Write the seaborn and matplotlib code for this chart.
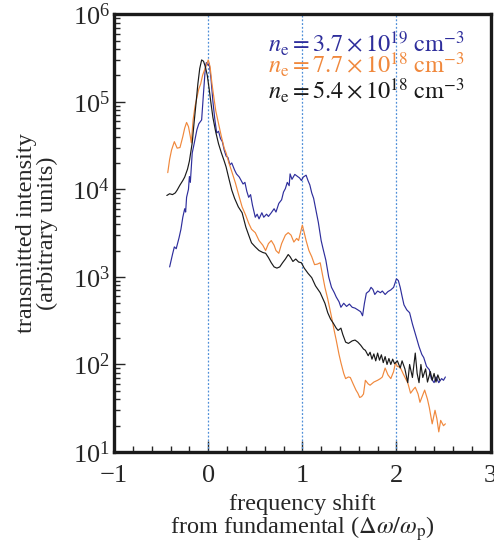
import numpy as np
import pandas as pd
import matplotlib
matplotlib.use("Agg")
import matplotlib.pyplot as plt
import matplotlib.ticker as mticker
import seaborn as sns

# ---- data ----
blue_x = [-0.41, -0.38, -0.36, -0.34, -0.31, -0.29, -0.27, -0.25, -0.24, -0.23, -0.21, -0.20, -0.19, -0.17,
          -0.15, -0.12, -0.10, -0.07, -0.05, -0.03, -0.02, 0.00, 0.01, 0.03, 0.05, 0.07, 0.09, 0.11, 0.13,
          0.15, 0.17, 0.19, 0.21, 0.23, 0.25, 0.28, 0.30, 0.33, 0.35, 0.37, 0.39, 0.41, 0.43, 0.45, 0.47,
          0.50, 0.52, 0.54, 0.57, 0.59, 0.62, 0.64, 0.67, 0.70, 0.72, 0.75, 0.78, 0.80, 0.82, 0.84, 0.86,
          0.87, 0.89, 0.92, 0.95, 0.97, 0.99, 1.01, 1.04, 1.06, 1.08, 1.10, 1.12, 1.15, 1.17, 1.20, 1.22,
          1.25, 1.28, 1.31, 1.34, 1.36, 1.39, 1.41, 1.44, 1.47, 1.50, 1.53, 1.56, 1.59, 1.62, 1.64, 1.66,
          1.68, 1.71, 1.73, 1.75, 1.77, 1.80, 1.83, 1.85, 1.88, 1.91, 1.94, 1.97, 2.00, 2.02, 2.04, 2.06,
          2.08, 2.11, 2.14, 2.17, 2.19, 2.22, 2.24, 2.27, 2.29, 2.32, 2.35, 2.37, 2.40, 2.42, 2.45, 2.48,
          2.50, 2.52]
blue_y = [1.3e3, 1.8e3, 2.2e3, 2.1e3, 2.8e3, 3.5e3, 4.8e3, 6.0e3, 5.5e3, 8.1e3, 1.0e4, 1.4e4, 1.2e4, 2.6e4,
          3.3e4, 4.8e4, 5.6e4, 6.2e4, 1.26e5, 2.5e5, 2.8e5, 2.6e5, 2.75e5, 1.8e5, 1.0e5, 6.3e4, 4.4e4, 4.6e4, 3.8e4,
          3.5e4, 2.8e4, 2.4e4, 2.3e4, 1.9e4, 2.0e4, 1.66e4, 1.5e4, 1.38e4, 1.26e4, 1.15e4, 1.2e4, 9.5e3, 8.1e3, 8.7e3, 6.6e3,
          4.8e3, 5.2e3, 4.6e3, 5.4e3, 4.8e3, 5.2e3, 4.9e3, 5.4e3, 6.0e3, 5.5e3, 6.9e3, 7.6e3, 9.3e3, 1.02e4, 1.2e4, 1.1e4,
          1.5e4, 1.3e4, 1.48e4, 1.4e4, 1.35e4, 1.26e4, 1.38e4, 1.45e4, 1.26e4, 1.12e4, 9.1e3, 7.9e3, 5.4e3, 4.2e3, 2.6e3, 2.1e3,
          1.55e3, 1.0e3, 7.6e2, 6.6e2, 5.9e2, 5.2e2, 4.5e2, 5.0e2, 4.6e2, 4.9e2, 4.5e2, 4.4e2, 4.2e2, 4.0e2, 3.6e2, 5.0e2,
          6.5e2, 6.9e2, 7.6e2, 7.2e2, 6.3e2, 6.9e2, 6.6e2, 6.9e2, 6.3e2, 6.8e2, 7.1e2, 7.6e2, 9.5e2, 9.1e2, 7.6e2, 6.0e2,
          4.8e2, 4.2e2, 3.9e2, 2.9e2, 2.45e2, 1.9e2, 1.6e2, 1.3e2, 1.2e2, 95, 87, 69, 62, 72, 62, 69,
          66, 72]

orange_x = [-0.43, -0.41, -0.39, -0.36, -0.33, -0.30, -0.27, -0.25, -0.23, -0.21, -0.19, -0.18, -0.16, -0.14,
            -0.12, -0.10, -0.08, -0.06, -0.04, -0.02, 0.00, 0.02, 0.04, 0.06, 0.08, 0.11, 0.14, 0.17, 0.19,
            0.22, 0.25, 0.29, 0.32, 0.36, 0.40, 0.43, 0.46, 0.50, 0.54, 0.58, 0.61, 0.64, 0.67, 0.70, 0.72,
            0.75, 0.78, 0.82, 0.85, 0.88, 0.91, 0.94, 0.96, 1.00, 1.02, 1.04, 1.07, 1.10, 1.13, 1.16, 1.19,
            1.21, 1.24, 1.27, 1.31, 1.34, 1.36, 1.39, 1.41, 1.44, 1.46, 1.49, 1.51, 1.54, 1.57, 1.59, 1.61,
            1.63, 1.65, 1.67, 1.70, 1.72, 1.76, 1.80, 1.83, 1.85, 1.88, 1.91, 1.94, 1.97, 1.99, 2.01, 2.04,
            2.07, 2.10, 2.12, 2.15, 2.18, 2.20, 2.23, 2.25, 2.28, 2.30, 2.33, 2.35, 2.38, 2.41, 2.43, 2.45,
            2.47, 2.50, 2.52]
orange_y = [1.55e4, 2.2e4, 2.8e4, 3.5e4, 2.95e4, 3.0e4, 4.0e4, 5.0e4, 5.8e4, 5.2e4, 4.0e4, 3.4e4, 6.3e4, 8.9e4,
            1.12e5, 1.4e5, 1.6e5, 2.0e5, 2.3e5, 2.6e5, 3.0e5, 2.5e5, 1.6e5, 1.12e5, 7.9e4, 5.6e4, 4.0e4, 2.95e4, 2.6e4,
            2.0e4, 1.6e4, 1.17e4, 8.9e3, 6.3e3, 5.0e3, 4.1e3, 3.5e3, 3.2e3, 2.6e3, 2.3e3, 2.0e3, 2.4e3, 2.6e3, 2.3e3, 2.0e3,
            1.86e3, 2.4e3, 3.0e3, 3.2e3, 3.0e3, 2.5e3, 2.75e3, 2.6e3, 3.9e3, 3.2e3, 2.6e3, 2.0e3, 1.7e3, 1.38e3, 1.4e3, 1.45e3,
            1.12e3, 7.6e2, 5.6e2, 3.5e2, 2.4e2, 1.9e2, 1.3e2, 1.05e2, 79, 69, 72, 71, 60, 51, 47, 42,
            43, 46, 66, 60, 58, 63, 66, 69, 72, 91, 76, 69, 83, 105, 95, 93,
            79, 68, 62, 47, 52, 55, 46, 37, 45, 51, 40, 32, 21, 30, 24, 17,
            23, 20, 21]

black_x = [-0.44, -0.41, -0.38, -0.35, -0.33, -0.30, -0.27, -0.25, -0.22, -0.20, -0.17, -0.15, -0.13, -0.11,
           -0.09, -0.07, -0.05, -0.03, -0.01, 0.01, 0.03, 0.05, 0.08, 0.11, 0.14, 0.17, 0.19, 0.22, 0.25,
           0.28, 0.32, 0.36, 0.40, 0.43, 0.46, 0.50, 0.54, 0.58, 0.61, 0.64, 0.67, 0.70, 0.73, 0.76, 0.79,
           0.82, 0.85, 0.87, 0.90, 0.93, 0.96, 0.99, 1.02, 1.06, 1.10, 1.14, 1.19, 1.24, 1.27, 1.30, 1.33,
           1.36, 1.38, 1.41, 1.43, 1.46, 1.49, 1.53, 1.56, 1.59, 1.62, 1.65, 1.67, 1.70, 1.72, 1.74, 1.76,
           1.78, 1.80, 1.82, 1.84, 1.86, 1.88, 1.90, 1.92, 1.94, 1.96, 1.98, 2.01, 2.04, 2.06, 2.09, 2.12,
           2.14, 2.17, 2.20, 2.22, 2.24, 2.26, 2.28, 2.31, 2.33, 2.36, 2.38, 2.40, 2.42, 2.44, 2.46]
black_y = [8.5e3, 8.9e3, 8.7e3, 9.1e3, 9.8e3, 1.12e4, 1.26e4, 1.38e4, 1.7e4, 2.1e4, 3.4e4, 5.8e4, 9.5e4, 1.6e5,
           2.4e5, 3.0e5, 2.9e5, 2.5e5, 2.0e5, 1.4e5, 9.5e4, 6.6e4, 4.5e4, 3.3e4, 2.6e4, 2.1e4, 1.8e4, 1.32e4, 9.8e3,
           7.9e3, 6.3e3, 5.4e3, 3.7e3, 3.0e3, 2.45e3, 2.2e3, 2.0e3, 1.9e3, 1.86e3, 1.66e3, 1.45e3, 1.3e3, 1.26e3, 1.3e3, 1.45e3,
           1.6e3, 1.8e3, 1.7e3, 1.5e3, 1.6e3, 1.48e3, 1.45e3, 1.26e3, 1.1e3, 9.8e2, 7.9e2, 6.6e2, 5.0e2, 3.9e2, 3.3e2, 2.95e2,
           2.6e2, 2.45e2, 2.6e2, 2.2e2, 1.8e2, 1.74e2, 1.86e2, 1.9e2, 1.8e2, 1.66e2, 1.5e2, 1.45e2, 1.26e2, 1.38e2, 1.15e2, 1.32e2,
           1.1e2, 1.35e2, 1.12e2, 1.29e2, 1.05e2, 1.23e2, 1.0e2, 1.17e2, 1.0e2, 1.15e2, 1.02e2, 1.1e2, 91, 1.1e2, 89, 62,
           1.0e2, 71, 1.35e2, 79, 62, 1.0e2, 71, 89, 63, 83, 66, 79, 63, 76, 66]

labels = [r"$n_{\mathrm{e}} = 3.7 \times 10^{19}\ \mathrm{cm}^{-3}$",
          r"$n_{\mathrm{e}} = 7.7 \times 10^{18}\ \mathrm{cm}^{-3}$",
          r"$n_{\mathrm{e}} = 5.4 \times 10^{18}\ \mathrm{cm}^{-3}$"]
colors = ["#2e2e9c", "#f0883c", "#1a1a1a"]
harmonics = [0, 1, 2]

# ---- style ----
sns.set_theme(style="ticks")
plt.rcParams["font.family"] = ["Liberation Serif", "DejaVu Serif"]
plt.rcParams["mathtext.fontset"] = "stix"
plt.rcParams["font.size"] = 17

df = pd.concat([
    pd.DataFrame({"x": blue_x, "y": blue_y, "series": labels[0]}),
    pd.DataFrame({"x": orange_x, "y": orange_y, "series": labels[1]}),
    pd.DataFrame({"x": black_x, "y": black_y, "series": labels[2]}),
], ignore_index=True)

fig = plt.figure(figsize=(4.94, 5.44), dpi=100)
ax = fig.add_axes([0.231, 0.169, 0.762, 0.805])

for h in harmonics:
    ax.axvline(h, color="#4f8fd8", linestyle=(0, (1.5, 1.5)), linewidth=0.9, zorder=1)

sns.lineplot(data=df, x="x", y="y", hue="series", palette=dict(zip(labels, colors)),
             estimator=None, sort=False, linewidth=0.85, legend=False, ax=ax, zorder=3)

ax.set_yscale("log")
ax.set_xlim(-1, 3)
ax.set_ylim(10, 1e6)
ax.xaxis.set_major_locator(mticker.MultipleLocator(1))
ax.xaxis.set_minor_locator(mticker.MultipleLocator(0.2))
ax.yaxis.set_major_locator(mticker.LogLocator(base=10, numticks=10))
ax.yaxis.set_minor_locator(mticker.LogLocator(base=10, subs=np.arange(2, 10), numticks=20))
ax.xaxis.set_major_formatter(mticker.FuncFormatter(lambda v, p: ("\u2212%d" % -v) if v < 0 else "%d" % v))

ax.tick_params(which="both", direction="in", top=False, right=False, labelsize=19, width=1.0)
ax.tick_params(axis="x", which="major", pad=9)
ax.tick_params(axis="y", which="major", pad=3)
ax.tick_params(which="major", length=8)
ax.tick_params(which="minor", length=4.5)
for s in ax.spines.values():
    s.set_linewidth(2.4)
    s.set_color("#1a1a1a")

ax.set_xlabel("frequency shift\nfrom fundamental ($\\Delta\\omega/\\omega_{\\mathrm{p}}$)", fontsize=17.5,
              linespacing=1.0, labelpad=5)
ax.set_ylabel("transmitted intensity\n(arbitrary units)", fontsize=17.5, linespacing=1.0, labelpad=10)

ys = [0.913, 0.865, 0.806]
for lab, c, yy in zip(labels, colors, ys):
    ax.text(0.41, yy, lab, transform=ax.transAxes, color=c, fontsize=17.5, ha="left", va="baseline", zorder=5)

fig.savefig("out.png", dpi=100)
